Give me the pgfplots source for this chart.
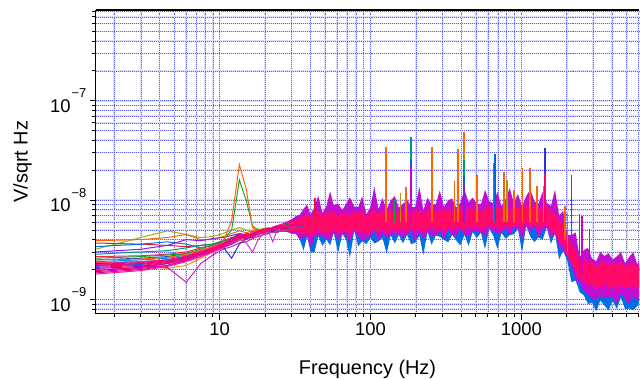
\documentclass[border=0pt]{standalone}
\usepackage{pgfplots}
\pgfplotsset{compat=1.18}
\usepackage{pgfplotstable}
\usepgfplotslibrary{fillbetween}
\usepackage{fontspec}
\setmainfont{Liberation Sans}
\definecolor{gridblue}{RGB}{95,95,250}
\definecolor{gridhalo}{RGB}{222,222,255}
\definecolor{cOra}{RGB}{255,100,0}
\definecolor{cOli}{RGB}{140,180,25}
\definecolor{cRed}{RGB}{230,25,50}
\definecolor{cBlu}{RGB}{0,115,230}
\definecolor{cPur}{RGB}{140,25,230}
\definecolor{cTea}{RGB}{0,153,115}
\definecolor{cOr2}{RGB}{240,140,25}
\definecolor{cMag}{RGB}{215,25,190}
\definecolor{cPk1}{RGB}{255,0,115}
\definecolor{cMg1}{RGB}{205,0,205}
\definecolor{cBl1}{RGB}{25,75,240}
\definecolor{cRd1}{RGB}{240,40,65}
\definecolor{cPu1}{RGB}{150,50,240}
\definecolor{cGr1}{RGB}{25,165,50}
\definecolor{cCy1}{RGB}{0,150,215}
\definecolor{cPk2}{RGB}{255,25,140}
\definecolor{cDb1}{RGB}{40,50,215}
\definecolor{cMg2}{RGB}{215,50,215}
\definecolor{cPk3}{RGB}{255,50,128}
\definecolor{cCri}{RGB}{230,0,75}
\definecolor{cVio}{RGB}{128,0,230}
\definecolor{cBl2}{RGB}{0,100,215}
\definecolor{cMg3}{RGB}{230,0,150}
\definecolor{cOlv}{RGB}{190,140,0}
\definecolor{bandBlue}{RGB}{0,110,230}
\definecolor{bandMag}{RGB}{195,15,205}
\definecolor{bandPink}{RGB}{255,10,105}
\newcommand\ex[1]{\kern1bp\raisebox{14.5bp}{\fontsize{13}{13}\selectfont −#1}}

\pgfplotstableread{
f    l1  l2  l3  l4  l5  l6   l7   l8   l9   l10  l11 l12  l13  l14  l15 l16 l17 l18 l19  l20 l21  l22  l23  l24  l25  l26
1.5  3.2 3.9 3.7 3.4 3.0 2.85 2.3  2.3  2.1  1.9  2.5 2.7  2.2  2.6  2.4 1.8  2.3 2.0 2.5  2.2 2.05 2.35 1.95 2.25 2.15 1.85
3.0  4.2 4.0 3.6 3.6 3.2 3.0  2.2  2.2  2.2  2.05 2.6 2.75 2.3  2.7  2.5 1.95 2.4 2.1 2.55 2.3 2.15 2.4  2.1  2.35 2.25 2.0
4.5  4.9 4.2 3.5 3.8 3.5 3.1  2.05 2.1  2.35 2.2  2.7 2.85 2.45 2.8  2.6 2.15 2.5 2.3 2.65 2.4 2.3  2.5  2.3  2.5  2.4  2.2
6.0  4.5 4.5 3.4 3.6 4.0 3.3  2.2  1.49 2.6  2.45 2.9 3.0  2.7  2.9  2.8 2.4  2.7 2.5 2.85 2.6 2.55 2.75 2.6  2.7  2.65 2.5
7.5  4.2 4.0 3.5 3.3 3.9 3.5  2.6  2.3  2.9  2.7  3.1 3.3  3.0  3.2  3.0 2.7  2.9 2.8 3.1  2.9 2.85 3.05 2.9  3.0  2.95 2.8
9.0  4.3 4.0 3.6 3.5 4.1 3.6  3.0  2.8  3.2  3.1  3.4 3.5  3.3  3.6  3.2 3.0  3.1 3.1 3.4  3.2 3.15 3.35 3.25 3.3  3.3  3.1
10.5 4.6 4.3 3.8 3.8 4.2 3.9  3.3  3.2  3.5  3.4  3.3 3.9  3.7  3.9  3.5 3.3  3.4 3.5 3.7  3.6 3.5  3.7  3.6  3.6  3.55 3.45
12.0 5.0 4.6 4.0 4.1 4.4 4.1  3.6  3.4  3.9  3.7  3.6 4.2  4.0  5.0  3.8 3.7  2.6 3.8 6.2  3.9 3.9  4.0  3.95 4.0  4.1  3.85
13.5 5.3 4.9 4.3 4.4 4.6 4.4  3.9  3.7  4.1  4.2  4.0 4.4  4.6  15.9 4.2 4.0  3.6 4.1 22.8 4.3 4.4  4.3  4.3  4.5  4.6  4.2
15.0 5.0 4.7 4.4 4.0 4.5 4.2  4.0  3.8  4.5  4.0  4.3 4.3  4.4  9.9  4.1 4.2  4.1 3.7 12.9 4.6 4.1  4.5  4.4  4.3  4.2  4.5
16.5 4.8 4.9 4.6 4.5 4.7 4.6  4.2  4.1  4.4  4.6  4.2 4.8  4.5  5.5  4.4 4.5  4.4 3.0 5.3  4.4 4.3  4.7  4.5  4.6  4.4  4.3
18.0 5.0 5.1 4.8 4.7 4.9 4.5  4.4  4.3  4.9  4.5  4.7 4.6  4.9  5.0  4.6 4.7  4.5 4.0 4.8  4.8 4.7  4.6  4.8  4.9  4.6  4.8
19.5 5.2 5.0 4.9 4.6 4.8 4.8  4.5  4.5  4.7  5.0  4.9 5.1  4.8  4.9  4.8 4.6  4.8 4.6 5.0  5.1 4.6  4.9  5.0  4.7  4.9  4.9
21.0 5.0 5.3 5.0 4.9 5.0 4.9  4.6  4.6  5.1  4.8  4.6 5.2  5.2  5.1  4.7 5.0  5.0 4.9 4.8  4.9 5.0  5.1  5.2  5.0  5.1  5.1
22.5 5.3 5.1 5.2 4.7 5.2 5.0  4.8  4.8  4.9  5.3  5.1 4.9  5.0  5.3  5.0 5.2  4.8 3.8 5.2  5.2 5.1  5.3  5.0  5.3  5.2  5.0
24.0 5.2 5.4 5.1 5.1 5.0 5.2  5.0  4.7  5.4  5.0  5.3 5.4  5.1  5.2  5.2 5.0  5.1 5.0 5.1  5.4 5.3  5.1  5.3  5.1  4.9  5.4
26.0 5.6 5.2 5.4 5.0 5.3 5.0  4.9  5.0  5.1  5.5  5.0 5.2  5.5  5.4  5.4 5.3  5.3 5.2 5.5  5.2 5.1  5.4  5.5  5.4  5.3  5.2
28.0 5.3 5.6 5.3 5.3 5.5 5.4  5.2  5.1  5.6  5.2  5.6 5.5  5.3  5.7  5.1 5.5  5.2 5.4 5.4  5.6 5.4  5.5  5.2  5.3  5.6  5.5
30.0 5.8 5.5 5.6 5.5 5.4 5.3  5.3  5.3  5.4  5.7  5.3 5.8  5.6  5.5  5.6 5.4  5.5 5.3 5.7  5.4 5.6  5.3  5.6  5.6  5.4  5.7
33.0 5.6 5.7 5.5 5.4 5.6 5.6  5.5  5.4  5.7  5.5  5.5 5.6  5.8  5.8  5.4 5.6  5.7 5.6 5.6  5.7 5.5  5.6  5.5  5.5  5.7  5.6
36.0 5.7 5.6 5.8 5.6 5.7 5.5  5.6  5.6  5.5  5.8  5.7 5.9  5.6  5.6  5.7 5.8  5.6 5.7 5.8  5.6 5.8  5.7  5.7  5.7  5.5  5.8
}\lowf

\pgfplotstableread{
f     bl    ml    pl    pu    mu
22    4.7   4.7   4.75  5.3   5.35
24    4.75  4.75  4.8   5.5   5.6
26    4.8   4.8   4.85  5.7   5.8
28    4.8   4.8   4.85  5.9   6.1
30    4.6   4.6   4.8   6.1   6.4
32    4.6   4.6   4.9   6.3   6.9
34    4.0   4.0   4.8   6.6   7.13
36    3.10  4.19  4.4   6.7   8.17
38    4.32  4.32  4.75  7.30  9.0
40    3.0   3.30  4.29  6.50  7.15
42.5  2.97  4.30  4.64  7.19  8.48
45    4.35  4.35  5.00  7.78  11.05
48    3.46  4.32  4.54  6.96  7.38
51    4.03  4.03  4.92  7.56  8.69
54    3.49  4.01  4.41  7.26  12.3
57    4.71  4.71  5.04  7.86  8.80
61    2.94  3.97  4.69  6.84  9.23
65    4.57  4.57  4.84  7.38  7.97
69    3.99  4.39  4.92  7.50  9.15
73    2.61  3.79  4.55  6.90  10.7
78    4.92  4.92  5.17  7.80  8.58
83    3.43  4.29  4.72  7.20  8.50
88    3.85  3.85  5.00  7.68  10.9
94    3.61  4.15  4.48  6.78  7.19
100   4.17  4.17  4.80  7.44  8.56
106   3.65  4.92  5.17  8.04  13.7
113   3.85  3.85  4.70  7.20  8.06
120   4.16  4.58  5.04  7.75  10.5
128   2.91  4.22  4.52  7.44  8.04
136   4.42  4.42  5.21  8.12  9.91
145   3.66  4.58  4.85  7.07  10.96
154   4.46  4.46  5.00  7.63  8.39
164   3.68  4.23  5.08  7.75  9.15
175   4.48  4.48  4.70  7.13  10.12
186   3.59  4.85  5.34  8.06  8.54
198   3.75  3.75  4.88  7.44  8.56
211   4.38  4.82  5.21  8.00  13.6
224   2.80  4.06  4.67  7.06  7.91
239   4.80  4.80  5.04  7.81  10.54
254   3.54  4.42  5.39  8.38  9.05
271   4.41  4.41  4.85  7.43  9.06
288   4.27  4.91  5.25  8.06  12.5
307   3.99  3.99  4.71  7.75  8.53
327   3.76  5.08  5.38  8.39  9.90
348   4.46  4.46  5.00  7.30  10.37
370   3.94  4.33  5.20  7.93  8.41
394   3.50  5.08  5.33  8.13  9.35
420   4.48  4.48  4.93  7.47  12.7
447   3.45  4.31  5.60  8.45  9.46
476   4.77  4.77  5.15  7.86  10.61
507   4.16  4.78  5.50  8.45  9.13
540   4.70  4.70  4.93  7.46  9.10
575   3.21  4.33  5.28  8.18  12.7
612   5.16  5.16  5.68  8.84  9.72
652   4.38  4.82  5.16  7.91  9.33
694   3.23  4.69  5.54  8.51  12.1
739   4.68  4.68  4.96  8.17  8.66
787   4.08  5.10  5.71  8.91  10.25
838   4.43  4.43  5.31  7.75  13.2
892   4.54  5.22  5.48  8.36  9.36
950   5.11  5.11  5.62  8.56  11.56
1012  2.98  4.02  5.23  7.94  8.58
1077  5.51  5.51  5.95  8.97  10.94
1147  4.29  4.72  5.43  8.28  12.8
1222  3.78  5.48  5.75  8.83  9.71
1301  4.22  4.22  5.15  7.80  9.20
1385  3.98  4.98  5.48  8.50  12.07
1475  5.36  5.36  5.73  8.91  9.44
1571  3.63  4.18  4.93  7.55  8.68
1673  4.60  4.60  4.88  7.49  12.7
1781  2.53  3.41  3.82  6.29  7.04
1897  3.08  3.08  3.70  5.76  7.78
2020  2.43  2.68  2.81  4.10  4.43
2151  1.49  2.16  2.38  3.63  4.43
2291  1.55  1.55  2.01  3.06  4.74
2440  1.18  1.47  1.59  2.42  2.66
2598  1.10  1.21  1.60  2.66  3.14
2767  0.90  1.14  1.38  2.33  3.31
2946  0.93  1.02  1.43  2.42  2.57
3138  0.76  1.00  1.27  2.11  2.43
3341  0.98  1.08  1.33  2.28  3.0
3558  0.87  1.05  1.43  2.44  2.73
3789  0.78  1.05  1.28  2.17  2.93
4035  0.97  1.07  1.38  2.33  2.52
4297  0.80  0.89  1.23  2.22  2.71
4576  1.05  1.16  1.40  2.41  3.0
4874  0.80  1.02  1.30  2.10  2.31
5190  0.81  0.89  1.34  2.26  2.67
5527  0.78  1.10  1.37  2.30  3.0
5886  0.86  0.95  1.26  2.11  2.24
6200  0.98  1.19  1.44  2.39  2.75
}\band

\begin{document}
\begin{tikzpicture}
\begin{axis}[
  xmode=log, ymode=log,
  scale only axis, width=544bp, height=304bp,
  xmin=1.51, xmax=6050, ymin=0.72, ymax=820,
  axis x line*=bottom, axis y line*=left,
  axis line style={black, line width=1.2pt},
  xtick={10,100,1000}, xticklabels={10,100,1000},
  minor xtick={2,3,4,5,6,7,8,9,20,30,40,50,60,70,80,90,200,300,400,500,600,700,800,900,2000,3000,4000,5000,6000},
  ytick={1,10,100}, yticklabels={10\ex{9},10\ex{8},10\ex{7}},
  minor ytick={0.8,0.9,2,3,4,5,6,7,8,9,20,30,40,50,60,70,80,90,200,300,400,500,600,700,800},
  tick align=outside,
  major tick length=6bp, minor tick length=3.5bp,
  every tick/.style={black, line width=0.9pt},
  ticklabel style={font=\fontsize{18.5}{20}\selectfont},
  grid=both,
  major grid style={draw=gridblue, line width=0.55pt, dash pattern=on 0.6pt off 1.4pt, preaction={draw=gridhalo, solid, line width=1.6pt}},
  minor grid style={draw=gridblue, line width=0.55pt, dash pattern=on 0.6pt off 1.4pt, preaction={draw=gridhalo, solid, line width=1.6pt}},
  xlabel={Frequency (Hz)}, ylabel={V/sqrt Hz},
  xlabel style={font=\fontsize{20}{22}\selectfont, at={(axis description cs:0.5,-0.2007)}, anchor=base, inner sep=0pt},
  ylabel style={font=\fontsize{20}{22}\selectfont, at={(axis description cs:-0.1526,0.5)}, anchor=north, inner sep=0pt},
  every axis plot/.append style={line width=1pt, forget plot},
  extra description/.code={
    \draw[black, line width=1.2pt] (axis description cs:0,1) -- (axis description cs:1,1);
    \path (axis description cs:-0.17647,-0.21382) rectangle (axis description cs:1,1.03289);
  },
]
% low-frequency traces
\addplot[cOli] table[x=f,y=l1]{\lowf};
\addplot[cOra] table[x=f,y=l2]{\lowf};
\addplot[cRed] table[x=f,y=l3]{\lowf};
\addplot[cBlu] table[x=f,y=l4]{\lowf};
\addplot[cPur] table[x=f,y=l5]{\lowf};
\addplot[cTea] table[x=f,y=l6]{\lowf};
\addplot[cOr2] table[x=f,y=l7]{\lowf};
\addplot[cMag] table[x=f,y=l8]{\lowf};
\addplot[cBl1] table[x=f,y=l11]{\lowf};
\addplot[cRd1] table[x=f,y=l12]{\lowf};
\addplot[cPu1] table[x=f,y=l13]{\lowf};
\addplot[cGr1] table[x=f,y=l14]{\lowf};
\addplot[cCy1] table[x=f,y=l15]{\lowf};
\addplot[cDb1] table[x=f,y=l17]{\lowf};
\addplot[cOra] table[x=f,y=l19]{\lowf};
\addplot[cBl2] table[x=f,y=l25]{\lowf};
\addplot[cVio] table[x=f,y=l21]{\lowf};
\addplot[cMg2] table[x=f,y=l18]{\lowf};
\addplot[cMg1] table[x=f,y=l10]{\lowf};
\addplot[cPk2] table[x=f,y=l16]{\lowf};
\addplot[cMg3] table[x=f,y=l26]{\lowf};
\addplot[cPk3] table[x=f,y=l22]{\lowf};
\addplot[cCri] table[x=f,y=l23]{\lowf};
\addplot[cPk1] table[x=f,y=l9]{\lowf};
\addplot[cPk1] table[x=f,y=l24]{\lowf};
\addplot[cPk1] table[x=f,y=l20]{\lowf};
% spectral lines
\addplot[cRed, line width=1.7pt] coordinates {(43,6) (43,10.6)};
\addplot[cOra, line width=1.8pt] coordinates {(127,6) (127,34.4)};
\addplot[cGr1, line width=1.7pt] coordinates {(144,6) (144,10)};
\addplot[cOlv, line width=1.7pt] coordinates {(158,6) (158,11.7)};
\addplot[cOra, line width=1.7pt] coordinates {(172,6) (172,13.5)};
\addplot[cTea, line width=1.8pt] coordinates {(186,6) (186,43.6)};
\addplot[cBl2, line width=1.8pt] coordinates {(186,6) (186,25.6)};
\addplot[cMg1, line width=1.8pt] coordinates {(186,6) (186,21.8)};
\addplot[cOra, line width=1.8pt] coordinates {(256,6) (256,34)};
\addplot[cOra, line width=1.7pt] coordinates {(361,6) (361,15.5)};
\addplot[cOra, line width=1.8pt] coordinates {(379,6) (379,32.8)};
\addplot[cOra, line width=1.8pt] coordinates {(417,6) (417,48.3)};
\addplot[cOlv, line width=1.8pt] coordinates {(417,6) (417,31)};
\addplot[cTea, line width=1.8pt] coordinates {(417,6) (417,25.6)};
\addplot[cBl2, line width=1.8pt] coordinates {(417,6) (417,17.4)};
\addplot[cPur, line width=1.8pt] coordinates {(417,6) (417,13.8)};
\addplot[cOra, line width=1.7pt] coordinates {(509,6) (509,17.7)};
\addplot[cCy1, line width=1.7pt] coordinates {(653,6) (653,23.9)};
\addplot[cBl2, line width=1.8pt] coordinates {(673,6) (673,28.8)};
\addplot[cOra, line width=1.7pt] coordinates {(769,6) (769,19.4)};
\addplot[cOlv, line width=1.7pt] coordinates {(804,6) (804,15.8)};
\addplot[cOra, line width=1.7pt] coordinates {(895,6) (895,12.6)};
\addplot[cOra, line width=1.7pt] coordinates {(1016,6) (1016,20.8)};
\addplot[cOra, line width=1.7pt] coordinates {(1143,6) (1143,21)};
\addplot[cOra, line width=1.7pt] coordinates {(1271,6) (1271,13.8)};
\addplot[cOra, line width=1.7pt] coordinates {(1400,6) (1400,14)};
\addplot[cDb1, line width=1.8pt] coordinates {(1436,6) (1436,33.7)};
\addplot[cPk1, line width=1.8pt] coordinates {(1436,6) (1436,18.9)};
\addplot[cOra, line width=1.6pt] coordinates {(1945,4) (1945,8.7)};
\addplot[cOra, line width=1.6pt] coordinates {(2030,3) (2030,7.5)};
\addplot[cMg1, line width=1.8pt] coordinates {(2152,2.5) (2152,17.7)};
\addplot[cMg1, line width=1.6pt] coordinates {(2430,1.8) (2430,7.2)};
\addplot[cMg1, line width=1.6pt] coordinates {(2520,1.8) (2520,6.9)};
\addplot[cMg1, line width=1.6pt] coordinates {(2840,1.8) (2840,5.1)};
% dense band of spectra
\addplot[draw=none, name path=PU] table[x=f,y=pu]{\band};
\addplot[draw=none, name path=PL] table[x=f,y=pl]{\band};
\addplot[draw=none, name path=MU] table[x=f,y=mu]{\band};
\addplot[draw=none, name path=ML] table[x=f,y=ml]{\band};
\addplot[draw=none, name path=BL] table[x=f,y=bl]{\band};
\addplot[bandBlue] fill between[of=PU and BL];
\addplot[bandMag] fill between[of=MU and ML];
\addplot[bandPink] fill between[of=PU and PL];
\end{axis}
\end{tikzpicture}
\end{document}
